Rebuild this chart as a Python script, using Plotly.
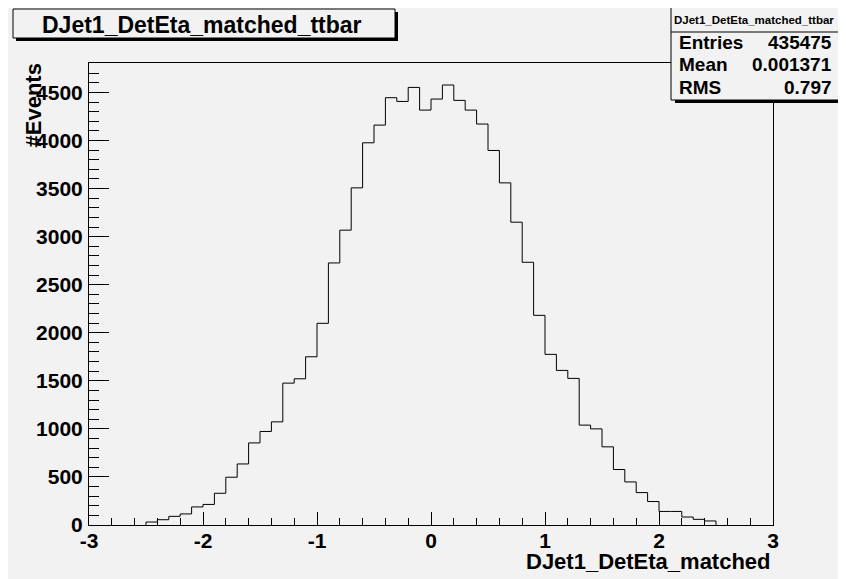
import plotly.graph_objects as go

# ---- data ----
bin_low = -2.5
bin_width = 0.1
counts = [31, 55, 90, 115, 188, 214, 330, 497, 635, 854,
          973, 1073, 1476, 1521, 1750, 2098, 2726, 3067, 3507, 3976,
          4160, 4445, 4406, 4552, 4316, 4431, 4577, 4417, 4316, 4171,
          3896, 3559, 3150, 2733, 2181, 1775, 1608, 1525, 1039, 1000,
          813, 577, 448, 337, 244, 141, 141, 83, 59, 42]
x_ticks = [-3, -2, -1, 0, 1, 2, 3]
y_ticks = [0, 500, 1000, 1500, 2000, 2500, 3000, 3500, 4000, 4500]
title_text = "DJet1_DetEta_matched_ttbar"
x_title = "DJet1_DetEta_matched"
y_title = "#Events"
stats_labels = ["Entries", "Mean", "RMS"]
stats_values = ["435475", "0.001371", "0.797"]

# ---- layout geometry (reference-pixel coordinates) ----
W, H = 846, 579
OFF = 8  # page body margin offset
L, R, T, B = 89, 773, 63, 525
BG = "#f2f2f2"
FONT = "Liberation Sans, Arial, Helvetica, sans-serif"


def px(xp):
    return (xp - L) / (R - L)


def py(yp):
    return (B - yp) / (B - T)


edges = [round(bin_low + bin_width * i, 2) for i in range(len(counts) + 1)]
hx = [edges[0]] + edges[:-1] + [edges[-1]]
hy = [0] + counts + [0]

fig = go.Figure()
fig.add_trace(go.Scatter(x=hx, y=hy, mode="lines", line=dict(color="black", width=1, shape="hv"),
                         hoverinfo="skip", showlegend=False))

tickfont = dict(family=FONT, size=21, color="black", weight="bold")
fig.update_layout(
    width=W - OFF, height=H - OFF,
    margin=dict(l=L - OFF, r=W - R, t=T - OFF, b=H - B, pad=0, autoexpand=False),
    paper_bgcolor=BG, plot_bgcolor=BG,
    showlegend=False,
    xaxis=dict(range=[-3, 3], tickvals=x_ticks, ticktext=[str(v) for v in x_ticks],
               ticks="inside", ticklen=13, tickwidth=1, tickcolor="black",
               minor=dict(ticks="inside", ticklen=7, dtick=0.2, tick0=-3, tickcolor="black", tickwidth=1),
               showline=True, linecolor="black", linewidth=1, mirror=True,
               showgrid=False, zeroline=False, tickfont=tickfont, ticklabelstandoff=-3,
               automargin=False),
    yaxis=dict(range=[0, 4806], tickvals=y_ticks, ticktext=[str(v) for v in y_ticks],
               ticks="inside", ticklen=20, tickwidth=1, tickcolor="black",
               minor=dict(ticks="inside", ticklen=10, dtick=100, tick0=0, tickcolor="black", tickwidth=1),
               showline=True, linecolor="black", linewidth=1, mirror=True,
               showgrid=False, zeroline=False, tickfont=tickfont, ticklabelstandoff=1,
               automargin=False),
)

shapes = []
# title box with shadow
shapes.append(dict(type="rect", xref="paper", yref="paper", x0=px(16), x1=px(398), y0=py(12), y1=py(41),
                   fillcolor="black", line=dict(width=0), layer="above"))
shapes.append(dict(type="rect", xref="paper", yref="paper", x0=px(13), x1=px(395), y0=py(9), y1=py(38),
                   fillcolor=BG, line=dict(color="black", width=1), layer="above"))
# stats box with shadow
shapes.append(dict(type="rect", xref="paper", yref="paper", x0=px(675), x1=px(848), y0=py(11), y1=py(103),
                   fillcolor="black", line=dict(width=0), layer="above"))
shapes.append(dict(type="rect", xref="paper", yref="paper", x0=px(671), x1=px(844), y0=py(7), y1=py(100),
                   fillcolor=BG, line=dict(color="black", width=1), layer="above"))
shapes.append(dict(type="line", xref="paper", yref="paper", x0=px(671), x1=px(844), y0=py(32), y1=py(32),
                   line=dict(color="black", width=1), layer="above"))
fig.update_layout(shapes=shapes)

ann = []
ann.append(dict(text=title_text, xref="paper", yref="paper", x=px(202), y=py(24.5), xanchor="center",
                yanchor="middle", showarrow=False, font=dict(family=FONT, size=23, color="black", weight="bold")))
ann.append(dict(text=title_text, xref="paper", yref="paper", x=px(754), y=py(19.5), xanchor="center",
                yanchor="middle", showarrow=False, font=dict(family=FONT, size=11.5, color="black", weight="bold")))
rows_y = [43, 65, 87]
for lab, val, yy in zip(stats_labels, stats_values, rows_y):
    ann.append(dict(text=lab, xref="paper", yref="paper", x=px(677), y=py(yy), xanchor="left",
                    yanchor="middle", showarrow=False, font=dict(family=FONT, size=19, color="black", weight="bold")))
    ann.append(dict(text=val, xref="paper", yref="paper", x=px(834), y=py(yy), xanchor="right",
                    yanchor="middle", showarrow=False, font=dict(family=FONT, size=19, color="black", weight="bold")))
ann.append(dict(text=x_title, xref="paper", yref="paper", x=px(773), y=py(561.5), xanchor="right",
                yanchor="middle", showarrow=False, font=dict(family=FONT, size=22, color="black", weight="bold")))
ann.append(dict(text=y_title, xref="paper", yref="paper", x=px(33.5), y=py(62), xanchor="center",
                yanchor="top", textangle=-90, showarrow=False,
                font=dict(family=FONT, size=22, color="black", weight="bold")))
fig.update_layout(annotations=ann)

fig.write_html("out.html")
